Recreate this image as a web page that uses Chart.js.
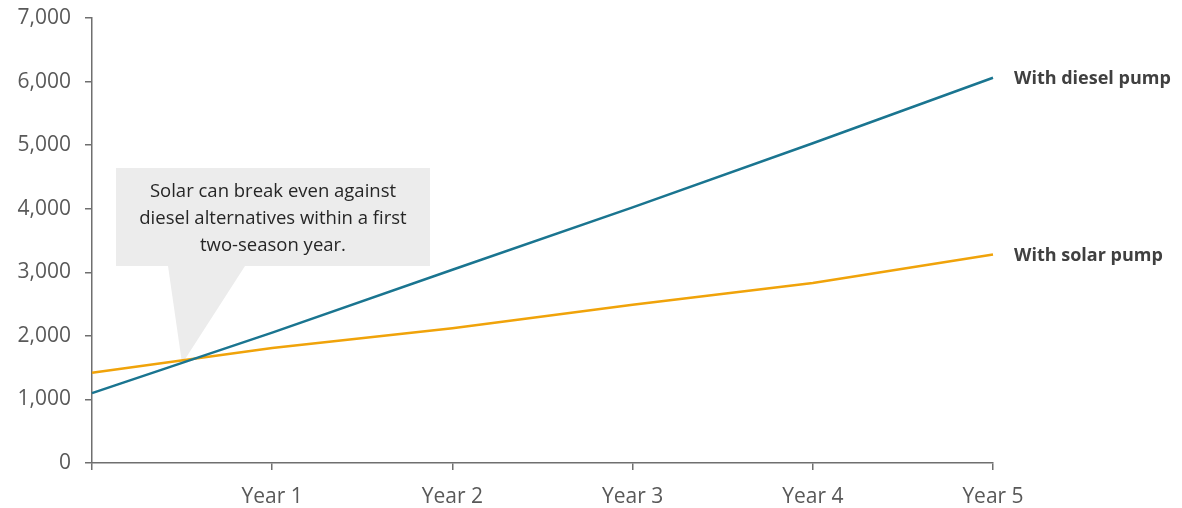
<!DOCTYPE html>
<html>
<head>
<meta charset="utf-8">
<title>Solar vs diesel pump costs</title>
<script src="https://cdn.jsdelivr.net/npm/chart.js"></script>
<style>
  html, body { margin: 0; padding: 0; background: #fff; }
  #wrap { width: 1182px; height: 508px; position: relative; }
</style>
</head>
<body>
<div id="wrap"><canvas id="chart"></canvas></div>
<script>
const years = ['', 'Year 1', 'Year 2', 'Year 3', 'Year 4', 'Year 5'];
const dieselCost = [1100, 2050, 3040, 4020, 5030, 6060];
const solarCost = [1420, 1810, 2120, 2490, 2830, 3280];
const yTicks = [0, 1000, 2000, 3000, 4000, 5000, 6000, 7000];
const calloutLines = ['Solar can break even against', 'diesel alternatives within a first', 'two-season year.'];

const FONT = '"Open Sans", "Noto Sans", sans-serif';
const axisGrey = '#6f6f6f';
const textGrey = '#595959';

// callout box + pointer, and end-of-line labels
const extras = {
  id: 'extras',
  beforeDatasetsDraw(chart) {
    const { ctx, scales: { x, y } } = chart;
    const tipX = (x.getPixelForValue(0) + x.getPixelForValue(1)) / 2;
    const tipY = y.getPixelForValue(1560);
    const bx = 116, by = 168, bw = 314, bh = 98;
    ctx.save();
    ctx.fillStyle = '#ececec';
    ctx.fillRect(bx, by, bw, bh);
    ctx.beginPath();
    ctx.moveTo(168, by + bh);
    ctx.lineTo(245, by + bh);
    ctx.lineTo(tipX, tipY);
    ctx.closePath();
    ctx.fill();
    ctx.fillStyle = '#262626';
    ctx.font = '18.5px ' + FONT;
    ctx.textAlign = 'center';
    ctx.textBaseline = 'middle';
    calloutLines.forEach((t, i) => ctx.fillText(t, bx + bw / 2, by + 24 + i * 27));
    ctx.restore();
  },
  afterDatasetsDraw(chart) {
    const { ctx } = chart;
    ctx.save();
    ctx.fillStyle = '#404040';
    ctx.font = 'bold 18px ' + FONT;
    ctx.textBaseline = 'middle';
    chart.data.datasets.forEach((ds, i) => {
      const pts = chart.getDatasetMeta(i).data;
      const last = pts[pts.length - 1];
      ctx.fillText(ds.label, last.x + 21, last.y + 1);
    });
    ctx.restore();
  }
};

new Chart(document.getElementById('chart'), {
  type: 'line',
  data: {
    labels: years,
    datasets: [
      { label: 'With diesel pump', data: dieselCost, borderColor: '#1a7590', borderWidth: 2.5, pointRadius: 0, tension: 0 },
      { label: 'With solar pump', data: solarCost, borderColor: '#f0a30a', borderWidth: 2.5, pointRadius: 0, tension: 0 }
    ]
  },
  options: {
    responsive: true,
    maintainAspectRatio: false,
    animation: false,
    layout: { padding: { top: 18, right: 189, left: 0, bottom: 0 } },
    plugins: { legend: { display: false }, tooltip: { enabled: false } },
    scales: {
      x: {
        offset: false,
        border: { color: axisGrey, width: 1.5 },
        grid: { display: true, drawOnChartArea: false, drawTicks: true, tickLength: 7, color: axisGrey, lineWidth: 1.5 },
        ticks: { color: textGrey, font: { family: FONT, size: 21 }, padding: 14, maxRotation: 0, autoSkip: false },
        afterFit(s) { s.height = 45; }
      },
      y: {
        min: 0,
        max: 7000,
        border: { color: axisGrey, width: 1.5 },
        grid: { display: true, drawOnChartArea: false, drawTicks: true, tickLength: 7, color: axisGrey, lineWidth: 1.5 },
        afterBuildTicks(s) { s.ticks = yTicks.map(v => ({ value: v })); },
        ticks: {
          color: textGrey,
          font: { family: FONT, size: 21 },
          padding: 14,
          callback: v => v.toLocaleString('en-US')
        },
        afterFit(s) { s.width = 92; s.paddingTop = 0; s.paddingBottom = 0; }
      }
    }
  },
  plugins: [extras]
});
</script>
</body>
</html>
